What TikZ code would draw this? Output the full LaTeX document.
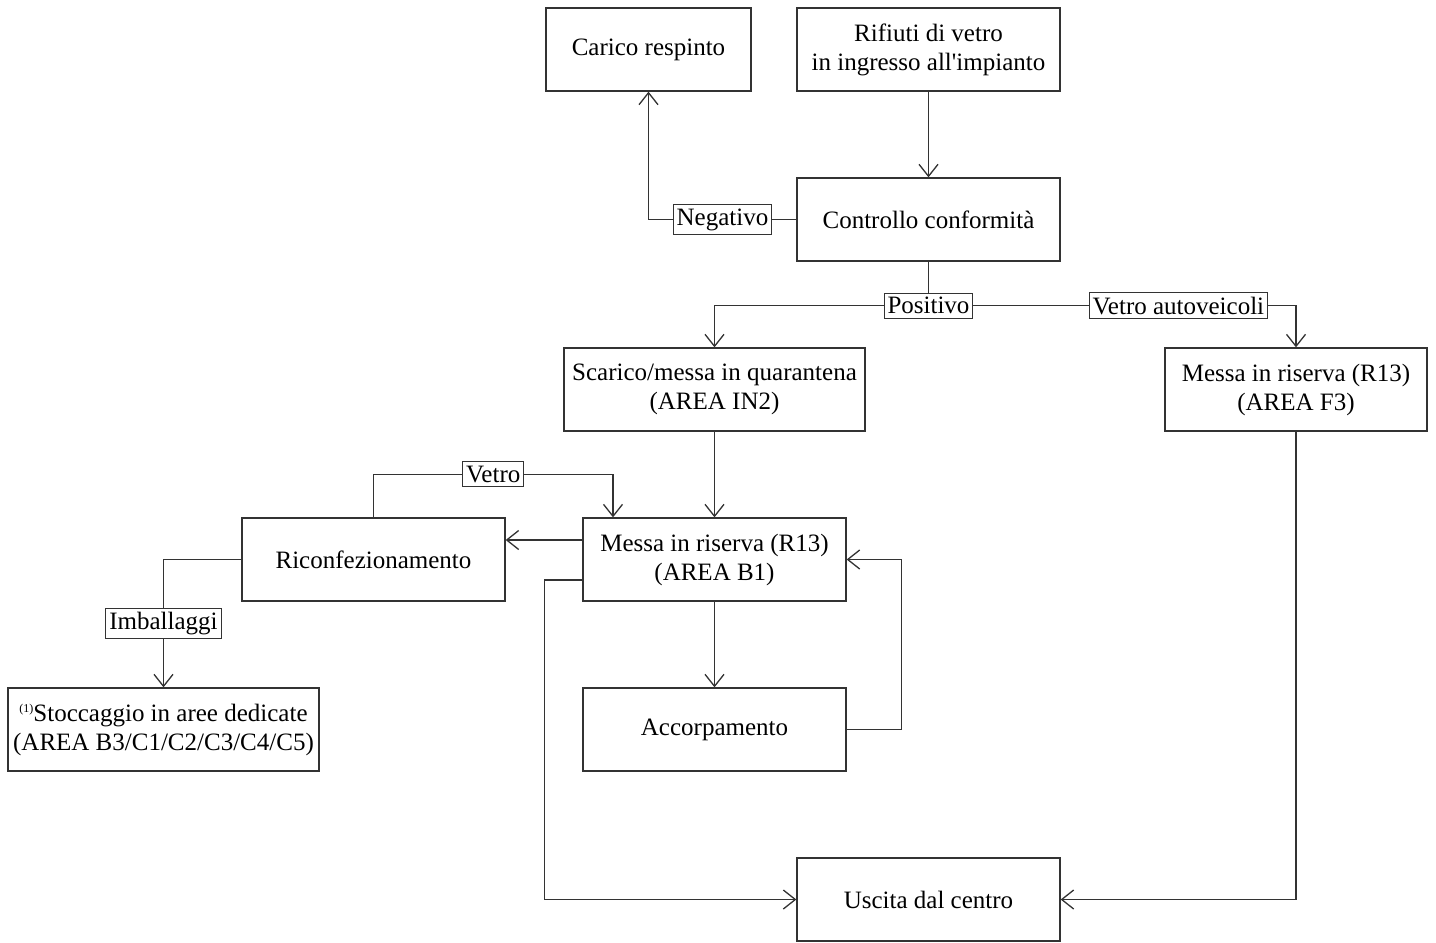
\documentclass[tikz,border=0pt]{standalone}
\usepackage{fontspec}
\setmainfont{Liberation Serif}
\usetikzlibrary{arrows.meta,calc}
\definecolor{ink}{HTML}{333333}
\begin{document}
\begin{tikzpicture}[x=1pt,y=-1pt,
  every node/.style={font=\fontsize{25}{29}\selectfont, text=black},
  box/.style={draw=ink, line width=1.3pt, rectangle, minimum height=83pt, align=center, inner sep=0pt},
  lab/.style={draw=ink, line width=1pt, fill=white, inner xsep=3.5pt, inner ysep=4pt},
  link/.style={draw=ink, line width=1.3pt},
  arr/.style={link, -{Straight Barb[length=12pt,width=19pt]}}]
  \useasboundingbox (0,0) rectangle (1436,943);

  % process boxes
  \node[box, minimum width=205pt] (carico)    at (648.5,49.5)  {Carico respinto};
  \node[box, minimum width=263pt] (rifiuti)   at (928.5,49.5)  {Rifiuti di vetro\\ in ingresso all\textquotesingle impianto};
  \node[box, minimum width=263pt] (controllo) at (928.5,219.5) {Controllo conformità};
  \node[box, minimum width=301pt] (scarico)   at (714.5,389.5) {Scarico/messa in quarantena\\(AREA IN2)};
  \node[box, minimum width=262pt] (f3)        at (1296,389.5)  {Messa in riserva (R13)\\(AREA F3)};
  \node[box, minimum width=263pt] (riconf)    at (373.5,559.5) {Riconfezionamento};
  \node[box, minimum width=263pt] (b1)        at (714.5,559.5) {Messa in riserva (R13)\\(AREA B1)};
  \node[box, minimum width=311pt] (stocc)     at (163.5,729.5) {\raisebox{9pt}{\fontsize{12}{12}\selectfont(1)}Stoccaggio in aree dedicate\\(AREA B3/C1/C2/C3/C4/C5)};
  \node[box, minimum width=263pt] (accorp)    at (714.5,729.5) {Accorpamento};
  \node[box, minimum width=263pt] (uscita)    at (928.5,899.5) {Uscita dal centro};

  % incoming waste and conformity check
  \draw[arr] (rifiuti.south) -- (controllo.north);
  \draw[arr] (controllo.west) -| node[lab, pos=0.25] (neg) {Negativo} (carico.south);

  % positive outcome branches
  \draw[link] (controllo.south) -- ++(0,44) coordinate (split);
  \draw[arr] (split) -| (scarico.north);
  \draw[arr] (split) -| node[lab, pos=0.34] (auto) {Vetro autoveicoli} (f3.north);
  \node[lab] (pos) at (split) {Positivo};

  % storage area B1
  \draw[arr] (scarico.south) -- (b1.north);
  \draw[arr] ([yshift=19.5pt]b1.west) -- ([yshift=19.5pt]riconf.east);
  \draw[arr] (riconf.north) -- ++(0,-43) -| node[lab, pos=0.25] (vetro) {Vetro} ([xshift=-101.5pt]b1.north);
  \draw[arr] (riconf.west) -| node[lab, pos=0.75] (imb) {Imballaggi} (stocc.north);
  \draw[arr] (b1.south) -- (accorp.north);
  \draw[arr] (accorp.east) -- ++(55,0) |- (b1.east);

  % exit
  \draw[arr] ([yshift=-20.5pt]b1.west) -- ++(-38,0) |- (uscita.west);
  \draw[arr] (f3.south) |- (uscita.east);
\end{tikzpicture}
\end{document}
